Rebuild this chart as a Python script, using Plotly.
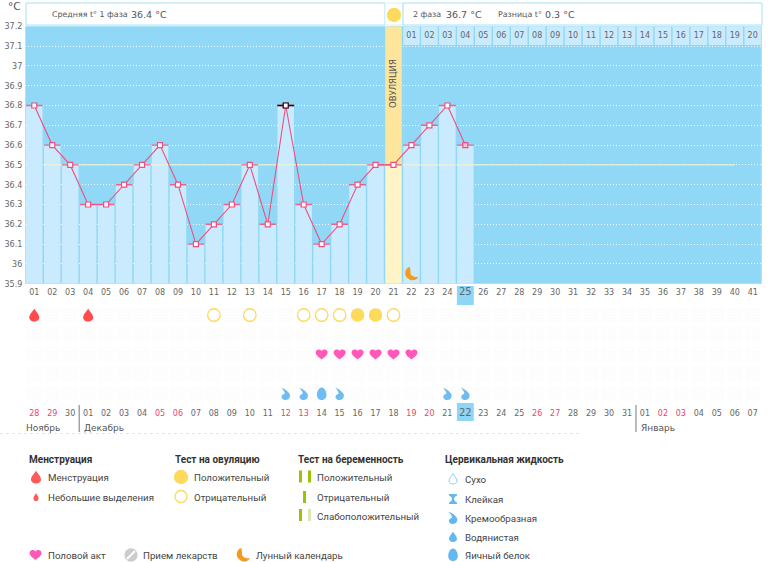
import plotly.graph_objects as go

W, H = 770, 562

# chart values
days = list(range(1, 42))
temps = [36.8, 36.6, 36.5, 36.3, 36.3, 36.4, 36.5, 36.6, 36.4, 36.1, 36.2, 36.3, 36.5,
         36.2, 36.8, 36.3, 36.1, 36.2, 36.4, 36.5, 36.5, 36.6, 36.7, 36.8, 36.6]
temp_ticks = [37.2, 37.1, 37, 36.9, 36.8, 36.7, 36.6, 36.5, 36.4, 36.3, 36.2, 36.1, 36, 35.9]
temp_labels = ["37.2", "37.1", "37", "36.9", "36.8", "36.7", "36.6", "36.5", "36.4", "36.3", "36.2", "36.1", "36", "35.9"]
dates = ["28", "29", "30"] + ["%02d" % d for d in range(1, 32)] + ["%02d" % d for d in range(1, 8)]
weekend_days = [1, 2, 8, 9, 15, 16, 22, 23, 29, 30, 36, 37]
months = ["Ноябрь", "Декабрь", "Январь"]
month_start_days = [1, 4, 35]
current_day = 25
ovulation_day = 21
selected_day = 15
phase2_days = days[21:]
phase2_labels = ["%02d" % d for d in range(1, 21)]
cover_days = [1.5, 40]
cover_temps = [36.5, 36.5]
moon_day = 22
moon_temp = 35.95

menses_days = [1, 4]
ov_negative_days = [11, 13, 16, 17, 18, 21]
ov_positive_days = [19, 20]
sex_days = [17, 18, 19, 20, 21, 22]
creamy_days = [15, 16, 18, 24, 25]
eggwhite_days = [17]

# the current day gets a slightly bigger label
day_labels = ['<span style="font-size:10px">%02d</span>' % d if d == current_day else "%02d" % d for d in days]

BLUE = "#90d8f5"
LIGHT = "#c9ebfd"
PINK = "#ee4f80"
YELLOW = "#fdd95c"
TICK = "#666666"
TEXT = "#444444"
AXFONT = "DejaVu Sans"
LEGFONT = "Roboto"
TITLE_SIZE = 10
ITEM_SIZE = 9.7

# pixel -> paper helpers
def px(x):
    return x / W

def py(y):
    return 1 - y / H

# icon outlines, in pixels around the anchor, y pointing up
DROP = "M0,6.5 C1,4 5,1 5,-2.5 C5,-5 2.5,-6.5 0,-6.5 C-2.5,-6.5 -5,-5 -5,-2.5 C-5,1 -1,4 0,6.5 Z"
MID_DROP = "M0,5.5 C0.8,3.5 4,1 4,-2 C4,-4 2,-5 0,-5 C-2,-5 -4,-4 -4,-2 C-4,1 -0.8,3.5 0,5.5 Z"
TINY_DROP = "M0,4 C0.5,2.5 2.6,0.8 2.6,-1.4 C2.6,-3 1.3,-4 0,-4 C-1.3,-4 -2.6,-3 -2.6,-1.4 C-2.6,0.8 -0.5,2.5 0,4 Z"
HEART = "M0,-5 C-2,-3 -6,-1 -6,2 C-6,4 -4.5,5 -3,5 C-1.5,5 -0.7,4.4 0,3.6 C0.7,4.4 1.5,5 3,5 C4.5,5 6,4 6,2 C6,-1 2,-3 0,-5 Z"
CREAMY = "M-4.5,6 C-2,6 2,3 4,0 C5,-3 3,-6 0,-6 C-3,-6 -4.5,-4 -4,-2 C-3.5,-0.5 -1.5,0 -1,0.5 C-1,2 -2.5,4.5 -4.5,6 Z"
EGG = "M0,6.5 C3,6.5 4.8,2 4.8,-1 C4.8,-4 2.5,-6 0,-6 C-2.5,-6 -4.8,-4 -4.8,-1 C-4.8,2 -3,6.5 0,6.5 Z"
STICKY = "M-4,5 L4,5 L4,3.5 C1.8,2.5 1,1 1,0 C1,-1 1.8,-2.5 4,-3.5 L4,-5 L-4,-5 L-4,-3.5 C-1.8,-2.5 -1,-1 -1,0 C-1,1 -1.8,2.5 -4,3.5 Z"
MOON = "M-2,7 C-7,5 -8,-2 -3,-5 C1,-8 6,-6 7,-3 C3,-4 -1,-2 -1,1 C-1,3 -1,5 -2,7 Z"

shapes = []
annotations = []

def icon(path, x, y, color, xref="x", yref="y2", line=None):
    shapes.append(dict(type="path", path=path, xref=xref, yref=yref, xsizemode="pixel", ysizemode="pixel",
                       xanchor=x, yanchor=y, fillcolor=color, layer="above",
                       line=dict(color=line or color, width=1 if line else 0)))

def legend_icon(path, x, y, color, line=None):
    icon(path, px(x), py(y), color, "paper", "paper", line)

def box(x0, y0, x1, y1, fill, line=None):
    shapes.append(dict(type="rect", xref="paper", yref="paper", x0=px(x0), x1=px(x1), y0=py(y0), y1=py(y1),
                       fillcolor=fill, layer="below", line=dict(color=line or fill, width=1 if line else 0)))

def legend_circle(x, y, r, fill, line):
    shapes.append(dict(type="circle", xref="paper", yref="paper", xsizemode="pixel", ysizemode="pixel",
                       xanchor=px(x), yanchor=py(y), x0=-r, x1=r, y0=-r, y1=r, fillcolor=fill,
                       line=dict(color=line, width=1.3)))

def label(x, y, text, size=ITEM_SIZE, color=TEXT, font=LEGFONT):
    # annotations carry a small inner padding, so pull them back a little
    annotations.append(dict(text=text, x=px(x - 2), y=py(y), xref="paper", yref="paper", xanchor="left", yanchor="middle",
                            showarrow=False, font=dict(size=size, color=color, family=font)))

fig = go.Figure()

# lower grid with the dither texture
row_x = [d for d in days for r in range(5)]
row_base = [r + 0.62 for d in days for r in range(5)]
fig.add_trace(go.Bar(x=row_x, y=[0.76] * len(row_x), base=row_base, yaxis="y2", width=0.86,
                     marker=dict(color="#ffffff", line_width=0,
                                 pattern=dict(shape=".", size=3, solidity=0.45, fgcolor="#f6f6f6", bgcolor="#ffffff"))))

# temperature columns
bar_days = days[:len(temps)]
bar_colors = ["#fff4c8" if d == ovulation_day else LIGHT for d in bar_days]
fig.add_trace(go.Bar(x=bar_days, y=[round(t - 35.9, 1) for t in temps], base=35.9, width=0.92,
                     marker=dict(color=bar_colors, line_width=0)))

# ovulation column above the temperature
ov_temp = temps[ovulation_day - 1]
fig.add_trace(go.Bar(x=[ovulation_day], y=[round(37.2 - ov_temp, 1)], base=ov_temp, width=0.92,
                     marker=dict(color="#fde69c", line_width=0)))

# top strip with second phase day numbers
fig.add_trace(go.Bar(x=phase2_days, y=[0.095] * len(phase2_days), base=37.105, width=0.92,
                     marker=dict(color=LIGHT, line_width=0)))
fig.add_trace(go.Scatter(x=phase2_days, y=[37.15] * len(phase2_days), mode="text", text=phase2_labels,
                         textfont=dict(size=8, color=TICK, family=AXFONT)))

# cover line
fig.add_trace(go.Scatter(x=cover_days, y=cover_temps, mode="lines", line=dict(color="#f3f6c8", width=1)))

# temperature line
marker_fill = ["#ffc0d3" if d == current_day else "#ffffff" for d in bar_days]
fig.add_trace(go.Scatter(x=bar_days, y=temps, mode="lines+markers", line=dict(color=PINK, width=1.1),
                         marker=dict(symbol="square", size=5, color=marker_fill, line=dict(color=PINK, width=1.2)),
                         error_x=dict(type="constant", value=0.47, thickness=1.4, width=0, color="#e9658f")))
fig.add_trace(go.Scatter(x=[selected_day], y=[temps[selected_day - 1]], mode="markers",
                         marker=dict(symbol="square", size=5, color="#ffffff", line=dict(color="#111111", width=1.2)),
                         error_x=dict(type="constant", value=0.47, thickness=1.4, width=0, color="#111111")))

# ovulation test rows
fig.add_trace(go.Scatter(x=ov_negative_days, y=[1] * len(ov_negative_days), yaxis="y2", mode="markers",
                         marker=dict(size=12.5, color="#ffffff", line=dict(color=YELLOW, width=1.3))))
fig.add_trace(go.Scatter(x=ov_positive_days, y=[1] * len(ov_positive_days), yaxis="y2", mode="markers",
                         marker=dict(size=13.5, color=YELLOW, line_width=0)))

# calendar dates
date_colors = ["#f5406f" if d in weekend_days else TICK for d in days]
date_sizes = [10 if d == current_day else 8 for d in days]
fig.add_trace(go.Scatter(x=days, y=[6] * len(days), yaxis="y2", mode="text", text=dates,
                         textfont=dict(size=date_sizes, color=date_colors, family=AXFONT)))

# month separators and names
for d, name in zip(month_start_days, months):
    if d > 1:
        shapes.append(dict(type="line", xref="x", yref="paper", x0=d - 0.5, x1=d - 0.5, y0=py(405), y1=py(432),
                           line=dict(color="#777777", width=1)))
    annotations.append(dict(text=name, x=d - 0.5, y=6.72, xref="x", yref="y2", xanchor="left", yanchor="middle",
                            xshift=3 if d > 1 else -1, showarrow=False, font=dict(size=9, color="#555555", family=AXFONT)))

# chart background, under the grid
shapes.append(dict(type="rect", xref="x domain", yref="y domain", x0=0, x1=1, y0=0, y1=1,
                   fillcolor=BLUE, layer="below", line_width=0))

# icons on the grid
for d in menses_days:
    icon(DROP, d, 1, "#ff4b4b")
for d in sex_days:
    icon(HEART, d, 3, "#ff58b8")
for d in creamy_days:
    icon(CREAMY, d, 5, "#6fbdf0")
for d in eggwhite_days:
    icon(EGG, d, 5, "#6fbdf0")
icon(MOON, moon_day, moon_temp, "#f59a1f", yref="y")

# current day highlight
for y0, y1 in [(286, 305), (403, 421)]:
    shapes.append(dict(type="rect", xref="x", yref="paper", x0=current_day - 0.47, x1=current_day + 0.47,
                       y0=py(y0), y1=py(y1), fillcolor="#8dd6f5", layer="below", line_width=0))

# header boxes
box(26, 3, 385, 25, "#ffffff", "#a8e0f6")
box(385, 3, 403, 25, "#ffffff", "#d6f0fb")
box(403, 3, 762, 25, "#ffffff", "#a8e0f6")
legend_circle(394, 15, 6.5, YELLOW, YELLOW)
label(52, 15, "Средняя t° 1 фаза", 7.9, "#555555", AXFONT)
label(131, 15, "36.4 °C", 9.5, "#555555", AXFONT)
label(413, 15, "2 фаза", 7.9, "#555555", AXFONT)
label(446, 15, "36.7 °C", 9.5, "#555555", AXFONT)
label(498, 15, "Разница t°", 7.9, "#555555", AXFONT)
label(545, 15, "0.3 °C", 9.5, "#555555", AXFONT)
label(8, 6, "°C", 10.5, "#555555", AXFONT)
annotations.append(dict(text="ОВУЛЯЦИЯ", x=ovulation_day, y=py(57), xref="x", yref="paper", textangle=-90,
                        showarrow=False, font=dict(size=8.5, color="#555555", family=AXFONT)))

shapes.append(dict(type="line", xref="paper", yref="paper", x0=0, x1=px(582), y0=py(433.5), y1=py(433.5),
                   line=dict(color="#e6e6e6", width=1, dash="dot")))

# legend
label(29, 459, "<b>Менструация</b>", TITLE_SIZE, "#333333")
legend_icon(DROP, 36, 477, "#ff5a5a")
label(48, 477, "Менструация")
legend_icon(TINY_DROP, 36, 497, "#ff5a5a")
label(48, 497, "Небольшие выделения")

label(175, 459, "<b>Тест на овуляцию</b>", TITLE_SIZE, "#333333")
legend_circle(181, 477, 6.5, YELLOW, YELLOW)
label(194, 477, "Положительный")
legend_circle(181, 496.5, 6, "#ffffff", YELLOW)
label(194, 497, "Отрицательный")

label(298, 459, "<b>Тест на беременность</b>", TITLE_SIZE, "#333333")
box(299, 470.5, 302, 482.5, "#9ac400")
box(308, 470.5, 311, 482.5, "#9ac400")
box(303, 491, 306, 503, "#9ac400")
box(299, 509, 302, 521, "#9ac400")
box(308, 509, 311, 521, "#dbe8b0")
label(317, 477, "Положительный")
label(317, 497, "Отрицательный")
label(317, 516, "Слабоположительный")

label(445, 459, "<b>Цервикальная жидкость</b>", TITLE_SIZE, "#333333")
legend_icon(MID_DROP, 453, 479, "#ffffff", "#8fd0f5")
label(465, 479, "Сухо")
legend_icon(STICKY, 453, 499, "#62b8ef")
label(465, 499, "Клейкая")
legend_icon(CREAMY, 453, 518, "#62b8ef")
label(465, 518, "Кремообразная")
legend_icon(MID_DROP, 453, 537, "#62b8ef")
label(465, 537, "Водянистая")
legend_icon(EGG, 453, 555, "#62b8ef")
label(465, 555, "Яичный белок")

legend_icon(HEART, 35.5, 555, "#ff58b8")
label(48, 555, "Половой акт")
legend_circle(131, 555, 6, "#cccccc", "#cccccc")
shapes.append(dict(type="line", xref="paper", yref="paper", x0=px(127), x1=px(135), y0=py(559), y1=py(551),
                   line=dict(color="#ffffff", width=2)))
label(143, 555, "Прием лекарств")
legend_icon(MOON, 243, 555, "#f59a1f")
label(256, 555, "Лунный календарь")

fig.update_layout(
    width=W, height=H, margin=dict(l=0, r=0, t=0, b=0, autoexpand=False), autosize=False,
    paper_bgcolor="#ffffff", plot_bgcolor="rgba(0,0,0,0)", showlegend=False, barmode="overlay",
    hovermode=False, shapes=shapes, annotations=annotations,
    xaxis=dict(domain=[px(25.3), px(761.7)], range=[0.5, 41.5], anchor="y", tickmode="array",
               tickvals=days, ticktext=day_labels, showgrid=False, zeroline=False, showline=False, ticks="",
               tickfont=dict(size=8, color=TICK, family=AXFONT), tickangle=0, ticklabelstandoff=2),
    yaxis=dict(domain=[py(283.7), py(26.3)], range=[35.9, 37.2], tickmode="array", tickvals=temp_ticks,
               ticktext=temp_labels, showgrid=True, gridcolor="rgba(255,255,255,0.85)", griddash="1px,2px", gridwidth=1,
               zeroline=False, showline=False, ticks="", tickfont=dict(size=8, color=TICK, family=AXFONT),
               ticklabelstandoff=2),
    yaxis2=dict(domain=[py(434), py(284)], range=[7.025, -0.57], anchor="x", showgrid=False, zeroline=False,
                showticklabels=False, showline=False, ticks=""),
)

fig.write_html("out.html", config=dict(displayModeBar=False), post_script="document.body.style.margin='0'")
